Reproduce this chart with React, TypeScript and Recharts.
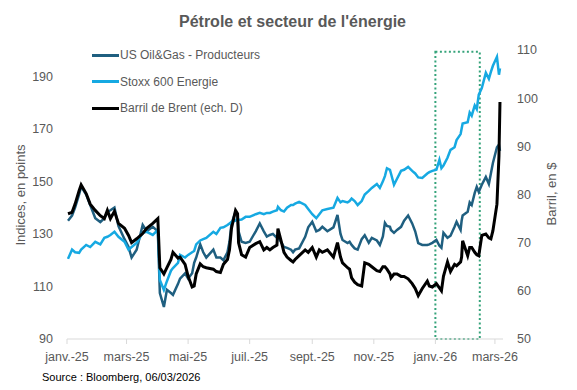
import React from 'react';
import { LineChart, Line, XAxis, YAxis, Legend, ReferenceArea } from 'recharts';

const FONT = '"Liberation Sans", Arial, sans-serif';

const dates = [
  '2025-01-02','2025-01-06','2025-01-09','2025-01-13','2025-01-15','2025-01-20','2025-01-24','2025-01-29','2025-02-03','2025-02-07',
  '2025-02-10','2025-02-13','2025-02-17','2025-02-21','2025-02-27','2025-03-03','2025-03-06','2025-03-11','2025-03-17','2025-03-21',
  '2025-03-27','2025-04-01','2025-04-03','2025-04-07','2025-04-10','2025-04-14','2025-04-16','2025-04-21','2025-04-23','2025-04-28',
  '2025-05-01','2025-05-05','2025-05-07','2025-05-09','2025-05-13','2025-05-16','2025-05-19','2025-05-26','2025-05-29','2025-06-02',
  '2025-06-05','2025-06-09','2025-06-11','2025-06-13','2025-06-17','2025-06-19','2025-06-20','2025-06-23','2025-06-27','2025-07-01',
  '2025-07-07','2025-07-11','2025-07-15','2025-07-18','2025-07-21','2025-07-24','2025-07-28','2025-07-29','2025-08-01','2025-08-04',
  '2025-08-07','2025-08-11','2025-08-13','2025-08-15','2025-08-19','2025-08-25','2025-08-28','2025-09-01','2025-09-05','2025-09-08',
  '2025-09-11','2025-09-16','2025-09-22','2025-09-26','2025-09-29','2025-10-01','2025-10-06','2025-10-08','2025-10-10','2025-10-13',
  '2025-10-16','2025-10-20','2025-10-23','2025-10-27','2025-10-30','2025-11-04','2025-11-07','2025-11-10','2025-11-12','2025-11-14',
  '2025-11-17','2025-11-18','2025-11-21','2025-11-24','2025-11-28','2025-12-01','2025-12-05','2025-12-09','2025-12-12','2025-12-15',
  '2025-12-19','2025-12-24','2025-12-26','2025-12-29','2026-01-02','2026-01-05','2026-01-07','2026-01-09','2026-01-13','2026-01-16',
  '2026-01-20','2026-01-22','2026-01-26','2026-01-27','2026-01-28','2026-02-02','2026-02-04','2026-02-06','2026-02-09','2026-02-11',
  '2026-02-13','2026-02-16','2026-02-20','2026-02-23','2026-02-25','2026-02-27','2026-03-03','2026-03-05','2026-03-06',
];

const usOilGas = [
  135,137,140,145,148,145,141,136,134.5,136,
  138.4,139,140,133,128,125,121,124,133.4,131,
  132.7,131,107.5,102.2,108.7,107.5,106.8,111,113,115,
  113,115,119,121,126,123,121,124,121,121,
  120,123,127,134,138.5,137,131,127,126.6,127,
  131,134,131,129,129.6,130,128.5,129,127,125,
  124.7,124,123,124,124.5,128.9,132.5,134.6,131,131.5,
  132.7,131,132.5,137.2,130,127.7,126.5,127,125.8,124.5,
  124,128,129.5,126.6,128.5,127.5,125.8,129,134.2,133,
  132.7,131.5,130.4,131.5,132.7,135,137,134,131,126.5,
  125.8,125.8,126,126.6,127.7,125.5,124.7,130.4,128.5,129.3,
  132.7,134.6,131.5,135,137,138.4,142,141,145.6,147.9,
  146,148.7,151.7,149,153,157,163,164,161.6,
];

const stoxxEnergy = [
  120.5,124,123,122.8,124,125.8,125,127,126,128.5,
  128.9,129.6,130.8,128.9,127,124,125,126.6,130.4,130.8,
  129.6,131.5,112.5,108.7,112,116,117,119,122,121,
  122,123,123.5,126,127.5,128,128.5,130.8,130,132.3,
  132.5,133.4,134,134.6,135,136,135.3,135.5,136.5,136.5,
  137.5,138,137.5,138,138,138.5,139,140.3,139,138.5,
  140,141,141,141.5,142.2,141,139.5,137.5,136,137.5,
  139,139.5,140,143.7,142,142.5,142,142.5,143.5,142.5,
  141,142.5,145,146.4,147.5,149,147.5,150,152,155,
  154.4,153,148.7,151,154,154.4,155.5,154,153,151.5,
  151.3,153,153.5,154,154.4,158.2,155,156,159,162,
  163,165.7,168,170,172,172.5,176.2,175,178.9,177.5,
  183,185.5,191.3,189,191.7,194,197.4,190.6,193,
];

const brent = [
  76.0,76.3,78.0,80.8,82.0,80.2,78.0,76.7,75.6,75.0,
  76.7,75.0,76.5,74.0,73.0,71.5,70.0,70.8,71.9,73.0,
  74.0,75.0,64.8,63.5,64.8,66.5,68.0,66.8,67.0,65.5,
  63.0,60.8,61.0,63.5,65.6,65.0,64.8,64.5,64.0,63.8,
  65.5,66.5,68.5,73.0,76.7,76.0,70.0,67.5,67.0,69.0,
  69.8,70.2,68.5,69.0,68.5,69.0,69.5,72.9,70.5,68.0,
  67.0,66.3,66.0,66.5,67.3,68.5,68.0,69.0,67.0,68.5,
  68.0,68.5,67.0,70.0,67.0,65.8,64.8,64.5,62.7,61.8,
  61.3,61.0,65.8,65.5,65.0,64.2,64.0,65.0,65.0,64.5,
  63.5,62.7,63.5,63.5,63.0,63.0,62.5,61.5,60.5,59.0,
  60.5,62.0,61.0,60.8,61.5,60.6,60.0,63.0,66.0,64.0,
  65.5,65.2,66.0,67.0,70.4,67.3,69.0,69.0,68.0,67.5,
  67.3,71.5,71.8,71.0,70.8,72.5,78.0,88.0,99.2,
];

const tickDates = ['2025-01-01','2025-03-01','2025-05-01','2025-07-01','2025-09-01','2025-11-01','2026-01-01','2026-03-01'];
const tickLabels = ['janv.-25','mars-25','mai-25','juil.-25','sept.-25','nov.-25','janv.-26','mars-26'];
const leftTicks = [90, 110, 130, 150, 170, 190];
const rightTicks = [50, 60, 70, 80, 90, 100, 110];

const seriesNames = ['US Oil&Gas - Producteurs', 'Stoxx 600 Energie', 'Barril de Brent (ech. D)'];
const seriesColors = ['#1f5f80', '#16a9e2', '#000000'];

const highlightStart = '2026-01-01';
const highlightEnd = '2026-02-14';
const axisEnd = '2026-03-09';

const dayIndex = (s: string) =>
  Math.round((Date.parse(s + 'T00:00:00Z') - Date.parse('2025-01-01T00:00:00Z')) / 86400000);

const data = dates.map((d, i) => ({
  t: dayIndex(d),
  us: usOilGas[i],
  stoxx: stoxxEnergy[i],
  brent: brent[i],
}));

const xTicks = tickDates.map(dayIndex);

const renderLegend = () => (
  <div style={{ fontFamily: FONT, fontSize: 12, color: '#595959' }}>
    {seriesNames.map((n, i) => (
      <div key={n} style={{ display: 'flex', alignItems: 'center', height: 26.5, whiteSpace: 'nowrap' }}>
        <span style={{ display: 'inline-block', width: 27, height: 3, background: seriesColors[i] }} />
        <span style={{ marginLeft: 1 }}>{n}</span>
      </div>
    ))}
  </div>
);

export default function App() {
  const tickStyle = { fill: '#595959', fontSize: 12.5, fontFamily: FONT };
  return (
    <div style={{ position: 'absolute', left: 0, top: 0, width: 577, height: 390, background: '#fff', fontFamily: FONT }}>
      <div style={{ position: 'absolute', left: 4, top: 12, width: 577, textAlign: 'center', fontSize: 16, fontWeight: 'bold', color: '#595959', lineHeight: '20px' }}>
        Pétrole et secteur de l'énergie
      </div>
      <LineChart width={577} height={390} data={data} margin={{ top: 50, right: 0, bottom: 0, left: 0 }}>
        <XAxis
          dataKey="t"
          type="number"
          domain={[0, dayIndex(axisEnd)]}
          ticks={xTicks}
          interval={0}
          allowDataOverflow
          tickFormatter={(v: number) => tickLabels[xTicks.indexOf(v)] ?? ''}
          height={51}
          axisLine={{ stroke: '#d9d9d9' }}
          tickLine={{ stroke: '#d9d9d9' }}
          tickSize={5}
          tickMargin={8}
          tick={tickStyle}
        />
        <YAxis
          yAxisId="left"
          orientation="left"
          width={67}
          domain={[90, 200]}
          ticks={leftTicks}
          interval={0}
          axisLine={false}
          tickLine={false}
          tickMargin={8}
          tick={tickStyle}
        />
        <YAxis
          yAxisId="right"
          orientation="right"
          width={74}
          domain={[50, 110]}
          ticks={rightTicks}
          interval={0}
          axisLine={false}
          tickLine={false}
          tickMargin={8}
          tick={tickStyle}
        />
        <ReferenceArea
          yAxisId="left"
          x1={dayIndex(highlightStart)}
          x2={dayIndex(highlightEnd)}
          y1={90}
          y2={199.3}
          fill="none"
          fillOpacity={0}
          stroke="#35a37a"
          strokeWidth={2}
          strokeDasharray="2 2.5"
          ifOverflow="visible"
        />
        <Line yAxisId="left" type="linear" dataKey="us" name={seriesNames[0]} stroke={seriesColors[0]} strokeWidth={2.5} dot={false} isAnimationActive={false} />
        <Line yAxisId="left" type="linear" dataKey="stoxx" name={seriesNames[1]} stroke={seriesColors[1]} strokeWidth={2.5} dot={false} isAnimationActive={false} />
        <Line yAxisId="right" type="linear" dataKey="brent" name={seriesNames[2]} stroke={seriesColors[2]} strokeWidth={3} dot={false} isAnimationActive={false} />
        <Legend
          layout="vertical"
          align="center"
          verticalAlign="middle"
          content={renderLegend}
          wrapperStyle={{ left: 92, top: 41.75, width: 220, height: 80 }}
        />
      </LineChart>
      <div style={{ position: 'absolute', left: 20, top: 195, transform: 'translate(-50%, -50%) rotate(-90deg)', whiteSpace: 'nowrap', fontSize: 13, color: '#595959' }}>
        Indices, en points
      </div>
      <div style={{ position: 'absolute', left: 551, top: 194, transform: 'translate(-50%, -50%) rotate(-90deg)', whiteSpace: 'nowrap', fontSize: 13, color: '#595959' }}>
        Barril, en $
      </div>
      <div style={{ position: 'absolute', left: 42, top: 370, fontSize: 11, color: '#000', lineHeight: '14px', whiteSpace: 'nowrap' }}>
        Source : Bloomberg, 06/03/2026
      </div>
    </div>
  );
}
